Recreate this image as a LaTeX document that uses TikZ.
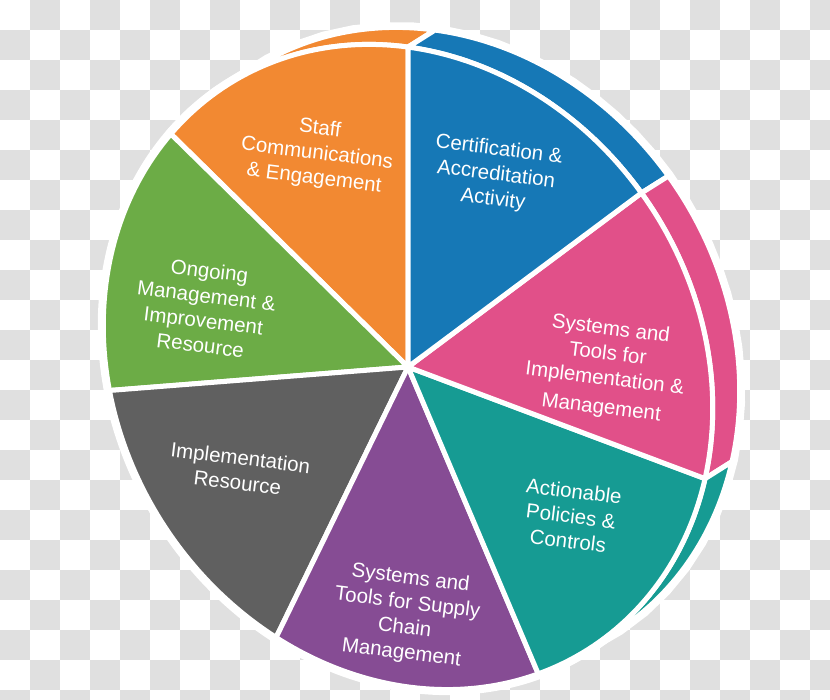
\documentclass[tikz,border=0pt]{standalone}
\usepackage{fontspec}
\setmainfont{Liberation Sans}
\usepackage{tikz}
\definecolor{checkgray}{RGB}{224,224,224}
\definecolor{pieorange}{RGB}{242,137,50}
\definecolor{pieblue}{RGB}{22,120,182}
\definecolor{piepink}{RGB}{225,80,137}
\definecolor{pieteal}{RGB}{22,155,147}
\definecolor{piepurple}{RGB}{134,76,148}
\definecolor{piegray}{RGB}{96,96,96}
\definecolor{piegreen}{RGB}{108,172,70}
\newcommand{\slicepath}[2]{(0,0) -- plot[domain=#1:#2,samples=40] (\x:{rr(\x)}) -- cycle}
\newcommand{\bandpath}[2]{plot[domain=#1:#2,samples=40] (\x:{rr(\x)}) -- plot[domain=#2:#1,samples=40] ({27+rr(\x)*cos(\x)},{17+rr(\x)*sin(\x)}) -- cycle}
\tikzset{
  slice/.style={fill=#1, draw=white, line width=5, line join=round},
  pielabel/.style={text=white, align=center, rotate=-7, font=\fontsize{20.5}{25}\selectfont}
}
\begin{document}
\begin{tikzpicture}[x=1pt,y=1pt,
    declare function={rr(\t)=974.85/sqrt((2.91*cos(\t-123))^2+(3.35*sin(\t-123))^2);}]
    \useasboundingbox (0,0) rectangle (830,700);
    \fill[white] (0,0) rectangle (830,700);
    \foreach \i in {0,...,27}
        \foreach \j in {0,...,23} {
            \ifodd\numexpr\i+\j\relax
                \fill[checkgray] (30*\i,700-30*\j) rectangle ++(30,-30);
            \fi
        }
    \begin{scope}[shift={(408,333)}]
        % white rim round the whole pie
        \filldraw[white, line width=11, line join=round] (0,0) ellipse[x radius=335, y radius=291, rotate=123];
        \filldraw[white, line width=11, line join=round] \bandpath{-67}{135.5};
        % side bands
        \draw[slice=pieorange] \bandpath{90}{135.5};
        \draw[slice=pieblue] \bandpath{36.7}{90};
        \draw[slice=piepink] \bandpath{-20.6}{36.7};
        \draw[slice=pieteal] \bandpath{-67}{-20.6};
        % faces
        \draw[slice=pieorange] \slicepath{90}{135.5};
        \draw[slice=piegreen] \slicepath{135.5}{184.5};
        \draw[slice=piegray] \slicepath{184.5}{244};
        \draw[slice=piepurple] \slicepath{244}{293};
        \draw[slice=pieteal] \slicepath{293}{339.4};
        \draw[slice=piepink] \slicepath{-20.6}{36.7};
        \draw[slice=pieblue] \slicepath{36.7}{90};
    \end{scope}
    \node[pielabel] (staff) at (317,546) {Staff\\Communications\\\& Engagement};
    \node[pielabel] (cert) at (496,525) {Certification \&\\Accreditation\\Activity};
    \node[pielabel] (ongoing) at (205,392) {Ongoing\\Management \&\\Improvement\\Resource};
    \node[pielabel] (sysimpl) at (606,331) {Systems and\\Tools for\\Implementation \&\\[4pt]Management};
    \node[pielabel] (implres) at (239,230) {Implementation\\Resource};
    \node[pielabel] (actionable) at (571,184) {Actionable\\Policies \&\\Controls};
    \node[pielabel] (supply) at (406,84) {Systems and\\Tools for Supply\\Chain\\Management};
\end{tikzpicture}
\end{document}
